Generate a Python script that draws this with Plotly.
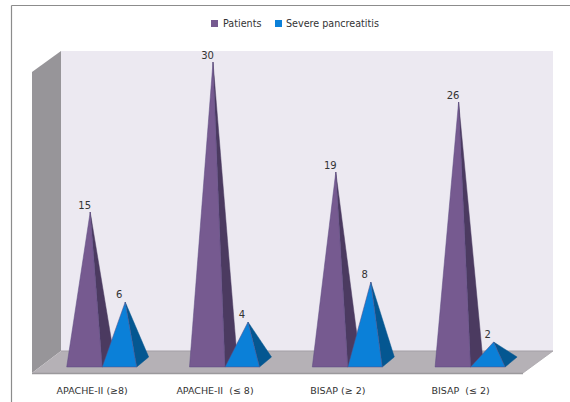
import plotly.graph_objects as go

# Chart data
categories = ["APACHE-II (≥8)", "APACHE-II  (≤ 8)", "BISAP (≥ 2)", "BISAP  (≤ 2)"]
patients = [15, 30, 19, 26]
severe = [6, 4, 8, 2]

# Canvas and scale: one category step is about 122.8 px, one value unit is 10 px
W, H = 570, 402
PLOT_BOTTOM = 373
STEP = 122.8
X_ORIGIN = 102.2
Y_ZERO = 362.0


def px_x(v):
    return (v - X_ORIGIN) / STEP


def paper_x(p):
    return p / W


def paper_y(p):
    return (PLOT_BOTTOM - p) / PLOT_BOTTOM


# Pyramid footprint in axis units
WIDTH_A = 35.5 / STEP
WIDTH_B = 34.5 / STEP
DEPTH_X = 12.0 / STEP
APEX_A = 12.0 / STEP
APEX_B = 23.0 / STEP
FRONT_Y, BACK_Y = -0.5, 0.5

PURPLE, PURPLE_DARK = "#765a90", "#4b3a60"
BLUE, BLUE_DARK = "#0b80d8", "#045791"

fig = go.Figure()


def pyramid(left, right, apex_x, value, face, side, name):
    fig.add_trace(go.Scatter(
        x=[right, right + DEPTH_X, apex_x, right], y=[FRONT_Y, BACK_Y, value, FRONT_Y],
        mode="lines", fill="toself", fillcolor=side, line=dict(color=side, width=0.5),
        name=name, showlegend=False, hoverinfo="skip"))
    fig.add_trace(go.Scatter(
        x=[left, right, apex_x, left], y=[FRONT_Y, FRONT_Y, value, FRONT_Y],
        mode="lines", fill="toself", fillcolor=face, line=dict(color="#5b4a80", width=0.5),
        name=name, showlegend=False, hoverinfo="skip"))


for i, cat in enumerate(categories):
    pyramid(i - WIDTH_A, i, i - APEX_A, patients[i], PURPLE, PURPLE_DARK, "Patients")
    pyramid(i, i + WIDTH_B, i + APEX_B, severe[i], BLUE, BLUE_DARK, "Severe pancreatitis")

# Value labels above each apex
label_font = dict(family="DejaVu Sans", size=10, color="#333333")
fig.add_trace(go.Scatter(
    x=[i - APEX_A - 5.5 / STEP for i in range(4)], y=[v + 0.6 for v in patients],
    mode="text", text=[str(v) for v in patients], textposition="middle center",
    textfont=label_font, showlegend=False, hoverinfo="skip"))
fig.add_trace(go.Scatter(
    x=[i + APEX_B - 6 / STEP for i in range(4)], y=[v + 0.7 for v in severe],
    mode="text", text=[str(v) for v in severe], textposition="middle center",
    textfont=label_font, showlegend=False, hoverinfo="skip"))


def poly(points, fill):
    path = "M " + " L ".join(f"{paper_x(a):.5f} {paper_y(b):.5f}" for a, b in points) + " Z"
    return dict(type="path", xref="paper", yref="paper", path=path, fillcolor=fill,
                line=dict(width=0), layer="below")


def rule(x0, y0, x1, y1, color, width=1.2, layer="below"):
    return dict(type="line", xref="paper", yref="paper", x0=paper_x(x0), y0=paper_y(y0),
                x1=paper_x(x1), y1=paper_y(y1), line=dict(color=color, width=width), layer=layer)


shapes = [
    poly([(61, 51), (553, 51), (553, 351), (61, 351)], "#ece9f1"),
    poly([(32, 72), (61, 51), (61, 351), (32, 373)], "#979599"),
    poly([(32, 373), (61, 351), (553, 351), (523, 373)], "#b5b1b6"),
    rule(61, 351, 553, 351, "#a3a0a6"),
    rule(32, 373.5, 523, 373.5, "#9b999c", 1.5),
    rule(523, 373, 553, 351, "#a9a6ab", 0.8),
    rule(11.5, 5.5, 570, 5.5, "#8c8c8c", 1.2),
    rule(11.5, 5.5, 11.5, 402, "#8c8c8c", 1.2),
    # Legend swatches
    poly([(211, 20), (218, 20), (218, 27), (211, 27)], PURPLE),
    poly([(275, 20), (282, 20), (282, 27), (275, 27)], BLUE),
]

legend_font = dict(family="DejaVu Sans", size=9.6, color="#333333")
annotations = [
    dict(xref="paper", yref="paper", x=paper_x(220.5), y=paper_y(23.5), text="Patients",
         showarrow=False, xanchor="left", yanchor="middle", font=legend_font),
    dict(xref="paper", yref="paper", x=paper_x(283.5), y=paper_y(23.5), text="Severe pancreatitis",
         showarrow=False, xanchor="left", yanchor="middle", font=legend_font),
]

fig.update_layout(
    width=W, height=H,
    margin=dict(l=0, r=0, t=0, b=H - PLOT_BOTTOM, pad=0),
    paper_bgcolor="white", plot_bgcolor="rgba(0,0,0,0)",
    showlegend=False, shapes=shapes, annotations=annotations,
    xaxis=dict(
        range=[px_x(0), px_x(W)], showgrid=False, zeroline=False, showline=False,
        ticks="", tickmode="array",
        tickvals=[i - 10 / STEP for i in range(4)], ticktext=categories,
        tickfont=dict(family="DejaVu Sans", size=9.5, color="#333333"),
        ticklabelstandoff=10, fixedrange=True),
    yaxis=dict(
        range=[(Y_ZERO - PLOT_BOTTOM) / 10, Y_ZERO / 10], visible=False, fixedrange=True),
)

fig.write_html("out.html", config={"displayModeBar": False})
